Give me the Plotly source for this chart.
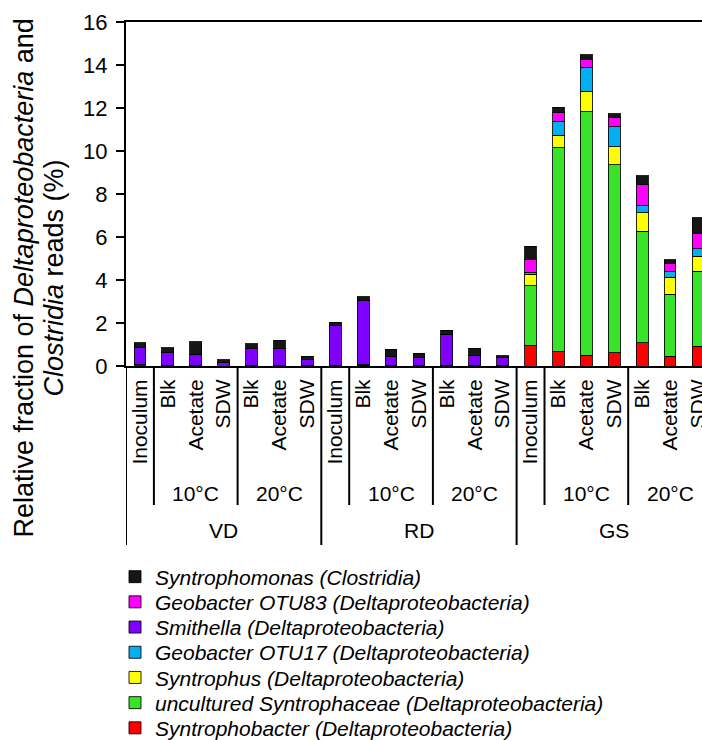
import plotly.graph_objects as go

# ---- categories (one entry per bar) ----
site = ["VD", "VD", "VD", "VD", "VD", "VD", "VD",
        "RD", "RD", "RD", "RD", "RD", "RD", "RD",
        "GS", "GS", "GS", "GS", "GS", "GS", "GS"]
temperature = ["", "10°C", "10°C", "10°C", "20°C", "20°C", "20°C",
               "", "10°C", "10°C", "10°C", "20°C", "20°C", "20°C",
               "", "10°C", "10°C", "10°C", "20°C", "20°C", "20°C"]
treatment = ["Inoculum", "Blk", "Acetate", "SDW", "Blk", "Acetate", "SDW",
             "Inoculum", "Blk", "Acetate", "SDW", "Blk", "Acetate", "SDW",
             "Inoculum", "Blk", "Acetate", "SDW", "Blk", "Acetate", "SDW"]

# ---- series values (% of reads), stacked bottom -> top ----
syntrophobacter = [0, 0, 0, 0, 0, 0, 0,
                   0, 0, 0, 0, 0, 0, 0,
                   0.94, 0.67, 0.51, 0.62, 1.08, 0.46, 0.93]
uncultured_syntrophaceae = [0.02, 0.01, 0.01, 0.0, 0.01, 0.01, 0.01,
                            0.01, 0.03, 0.01, 0.01, 0.01, 0.01, 0.01,
                            2.79, 9.47, 11.32, 8.73, 5.18, 2.87, 3.47]
syntrophus = [0.06, 0.01, 0.01, 0.0, 0.01, 0.01, 0.01,
              0.01, 0.05, 0.0, 0.0, 0.0, 0.0, 0.0,
              0.53, 0.60, 0.94, 0.85, 0.86, 0.79, 0.71]
geobacter_otu17 = [0, 0, 0, 0, 0, 0, 0,
                   0, 0, 0, 0, 0, 0, 0,
                   0.09, 0.64, 1.12, 0.92, 0.34, 0.26, 0.34]
smithella = [0.80, 0.60, 0.52, 0.14, 0.78, 0.78, 0.28,
             1.85, 2.99, 0.42, 0.37, 1.46, 0.50, 0.39,
             0, 0, 0, 0, 0, 0, 0]
geobacter_otu83 = [0, 0, 0, 0, 0, 0, 0,
                   0, 0, 0, 0, 0, 0, 0,
                   0.60, 0.42, 0.38, 0.46, 0.98, 0.37, 0.71]
syntrophomonas = [0.20, 0.23, 0.59, 0.16, 0.24, 0.40, 0.15,
                  0.16, 0.15, 0.34, 0.22, 0.20, 0.31, 0.08,
                  0.62, 0.24, 0.21, 0.16, 0.40, 0.19, 0.73]

series_names = [
    "<i>Syntrophobacter (Deltaproteobacteria)</i>",
    "<i>uncultured Syntrophaceae (Deltaproteobacteria)</i>",
    "<i>Syntrophus (Deltaproteobacteria)</i>",
    "<i>Geobacter OTU17 (Deltaproteobacteria)</i>",
    "<i>Smithella (Deltaproteobacteria)</i>",
    "<i>Geobacter OTU83 (Deltaproteobacteria)</i>",
    "<i>Syntrophomonas (Clostridia)</i>",
]
series_values = [syntrophobacter, uncultured_syntrophaceae, syntrophus,
                 geobacter_otu17, smithella, geobacter_otu83, syntrophomonas]
series_colors = ["#FF0000", "#39E32A", "#FFFF00", "#00B0F0",
                 "#7F00FF", "#FF00FF", "#161616"]

y_ticks = [0, 2, 4, 6, 8, 10, 12, 14, 16]
y_title_lines = ["Relative fraction of <i>Deltaproteobacteria</i> and",
                 "<i>Clostridia</i> reads (%)"]

FONT = "Liberation Sans, Arial, sans-serif"
W, H = 702, 740
ML, MT, MB = 126, 22, 374
CAT_PX = 27.9                      # pixel width of one category slot
n = len(treatment)
x_idx = list(range(n))
plot_w = W - ML
plot_h = H - MT - MB

fig = go.Figure()
n_series = len(series_names)
for k, (name, vals, col) in enumerate(zip(series_names, series_values, series_colors)):
    row = n_series - 1 - k          # legend: top row = top of stack
    leg = "legend" if row == 0 else f"legend{row + 1}"
    fig.add_trace(go.Bar(
        x=x_idx, y=vals, name=name, showlegend=True,
        marker=dict(color=col, line=dict(color="rgba(0,0,0,0.85)", width=1)),
        legend=leg,
    ))

# ---- legends (one per row so the row pitch matches the original) ----
row0, pitch = 577, 25.2
legends = {}
for row in range(n_series):
    key = "legend" if row == 0 else f"legend{row + 1}"
    legends[key] = dict(
        x=115 / W, xref="container", xanchor="left",
        y=1 - (row0 + row * pitch) / H, yref="container", yanchor="middle",
        font=dict(family=FONT, size=21, color="black"),
        bgcolor="rgba(0,0,0,0)", borderwidth=0, visible=True,
    )

# ---- category separators below the axis ----
shapes = [dict(type="line", xref="x", yref="paper", ysizemode="pixel", yanchor=0,
               x0=-0.5, x1=-0.5, y0=0, y1=-179, line=dict(color="black", width=2))]
for i in range(1, n):
    if site[i] != site[i - 1]:
        depth = -179
    elif temperature[i] != temperature[i - 1]:
        depth = -139
    else:
        continue
    shapes.append(dict(type="line", xref="x", yref="paper", ysizemode="pixel", yanchor=0,
                       x0=i - 0.5, x1=i - 0.5, y0=0, y1=depth,
                       line=dict(color="black", width=2)))

# ---- group labels (temperature and site levels) ----
annotations = []
i = 0
while i < n:
    j = i
    while j + 1 < n and site[j + 1] == site[i] and temperature[j + 1] == temperature[i]:
        j += 1
    if temperature[i]:
        annotations.append(dict(
            x=(i + j) / 2, xref="x", y=0, yref="paper", yanchor="middle", yshift=-127,
            text=temperature[i], showarrow=False,
            font=dict(family=FONT, size=21, color="black")))
    i = j + 1
i = 0
while i < n:
    j = i
    while j + 1 < n and site[j + 1] == site[i]:
        j += 1
    annotations.append(dict(
        x=(i + j) / 2, xref="x", y=0, yref="paper", yanchor="middle", yshift=-164,
        text=site[i], showarrow=False,
        font=dict(family=FONT, size=21, color="black")))
    i = j + 1

# y-axis title (two rotated lines)
title_center_y = (MT + plot_h - 278 + MT) / plot_h  # placeholder replaced below
title_center_y = (MT + plot_h - 278) / plot_h
for line_text, cx in zip(y_title_lines, [23.5, 53.5]):
    annotations.append(dict(
        x=(cx - ML) / plot_w, xref="paper", xanchor="center",
        y=title_center_y, yref="paper", yanchor="middle", textangle=-90,
        text=line_text, showarrow=False,
        font=dict(family=FONT, size=27, color="black")))

fig.update_layout(
    width=W, height=H,
    margin=dict(l=ML, r=0, t=MT, b=MB, autoexpand=False),
    barmode="stack", bargap=0.58, showlegend=True,
    plot_bgcolor="white", paper_bgcolor="white",
    font=dict(family=FONT, color="black"),
    shapes=shapes, annotations=annotations,
    xaxis=dict(
        range=[-0.5, -0.5 + plot_w / CAT_PX],
        tickmode="array", tickvals=x_idx, ticktext=treatment,
        tickangle=-90, ticks="", ticklabelstandoff=3, ticklabeloverflow="allow",
        tickfont=dict(family=FONT, size=21, color="black"),
        showline=True, mirror=True, linecolor="black", linewidth=2,
        showgrid=False, zeroline=False,
    ),
    yaxis=dict(
        range=[0, 16], tickmode="array", tickvals=y_ticks,
        ticks="outside", ticklen=8, tickwidth=2, tickcolor="black",
        ticklabelstandoff=4,
        tickfont=dict(family=FONT, size=22, color="black"),
        showline=True, linecolor="black", linewidth=2,
        showgrid=False, zeroline=False,
    ),
    **legends,
)

fig.write_html("out.html")
